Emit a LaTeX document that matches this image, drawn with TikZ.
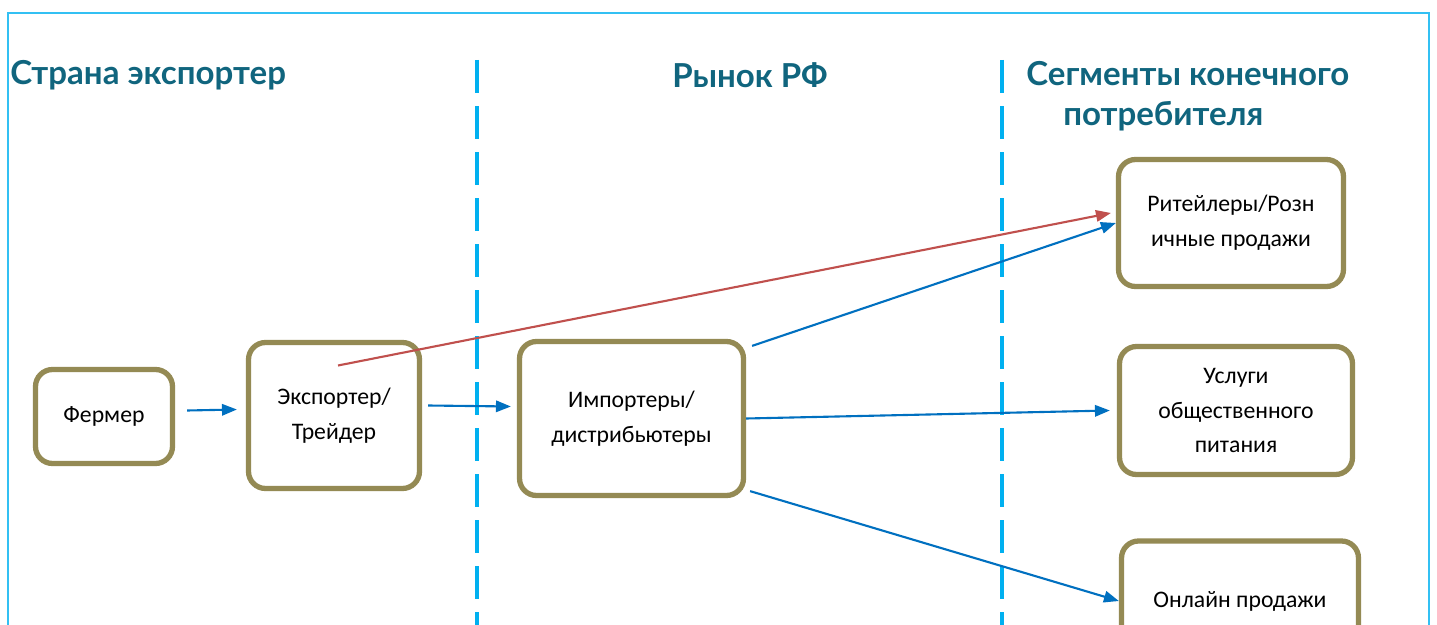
\documentclass[tikz,border=0pt]{standalone}
\usepackage{fontspec}
\usepackage{tikz}
\usetikzlibrary{arrows.meta}
\setmainfont{Carlito}
\newfontfamily\headfont{Lato}
\definecolor{headteal}{RGB}{16,101,126}
\definecolor{boxolive}{RGB}{148,138,84}
\definecolor{flowblue}{RGB}{0,112,192}
\definecolor{flowred}{RGB}{192,80,77}
\definecolor{sepblue}{RGB}{0,176,240}

\begin{document}
\begin{tikzpicture}[x=0.02cm, y=-0.02cm,
    stage/.style={draw=boxolive, line width=3pt, rounded corners=0.34cm, fill=white,
        align=center, font=\fontsize{13.5}{19.8}\selectfont, inner sep=2pt},
    flow/.style={draw=flowblue, line width=1.2pt, -{Triangle[length=8.5pt, width=6.5pt]}},
    redflow/.style={flow, draw=flowred},
    sep/.style={draw=sepblue, line width=2.3pt, dash pattern=on 18.8pt off 7.4pt},
    head/.style={text=headteal, font=\headfont\bfseries\fontsize{18.8}{22.8}\selectfont, inner sep=0pt}]
    \useasboundingbox (0,0) rectangle (1437,625);
    \clip (0,0) rectangle (1437,625);
    \fill[white] (0,0) rectangle (1437,625);
    \draw[draw=sepblue!80, line width=0.9pt] (8,700) -- (8,13) -- (1429,13) -- (1429,700);
    % columns
    \draw[sep] (477,60) -- (477,700);
    \draw[sep] (1002,60) -- (1002,700);
    \node[head, anchor=west] (hexp) at (10,75) {Страна экспортер};
    \node[head] (hrf) at (750,75) {Рынок РФ};
    \node[head, anchor=north west, align=left] (hseg) at (1026,61) {Сегменты конечного\\\hspace*{21pt}потребителя};
    % boxes
    \node[stage, minimum width=2.74cm, minimum height=1.88cm] (fermer) at (104,416.5) {Фермер};
    \node[stage, minimum width=3.42cm, minimum height=2.92cm] (exp) at (334,415.5) {Экспортер/\\Трейдер};
    \node[stage, minimum width=4.48cm, minimum height=3.08cm] (imp) at (631.5,418.5) {Импортеры/\\дистрибьютеры};
    \node[stage, minimum width=4.5cm, minimum height=2.54cm] (ret) at (1231,223) {Ритейлеры/Розн\\ичные продажи};
    \node[stage, minimum width=4.66cm, minimum height=2.56cm] (usl) at (1236,410.5) {Услуги\\общественного\\питания};
    \node[stage, minimum width=4.74cm, minimum height=2.4cm] (onl) at (1240,601) {Онлайн продажи};
    % arrows
    \coordinate (redstart) at ([shift={(4,-50)}]exp.center);
    \draw[redflow] (redstart) -- ([shift={(-5,-10)}]ret.west);
    \draw[flow] ([shift={(12,-6)}]fermer.east) -- ([shift={(-9,-6)}]exp.west);
    \draw[flow] ([shift={(6,-10)}]exp.east) -- ([shift={(-6,-12)}]imp.west);
    \draw[flow] ([shift={(6,7)}]imp.north east) -- (ret.west);
    \draw[flow] (imp.east) -- ([xshift=-4]usl.west);
    \draw[flow] ([shift={(4,-7)}]imp.south east) -- (onl.west);
\end{tikzpicture}
\end{document}
